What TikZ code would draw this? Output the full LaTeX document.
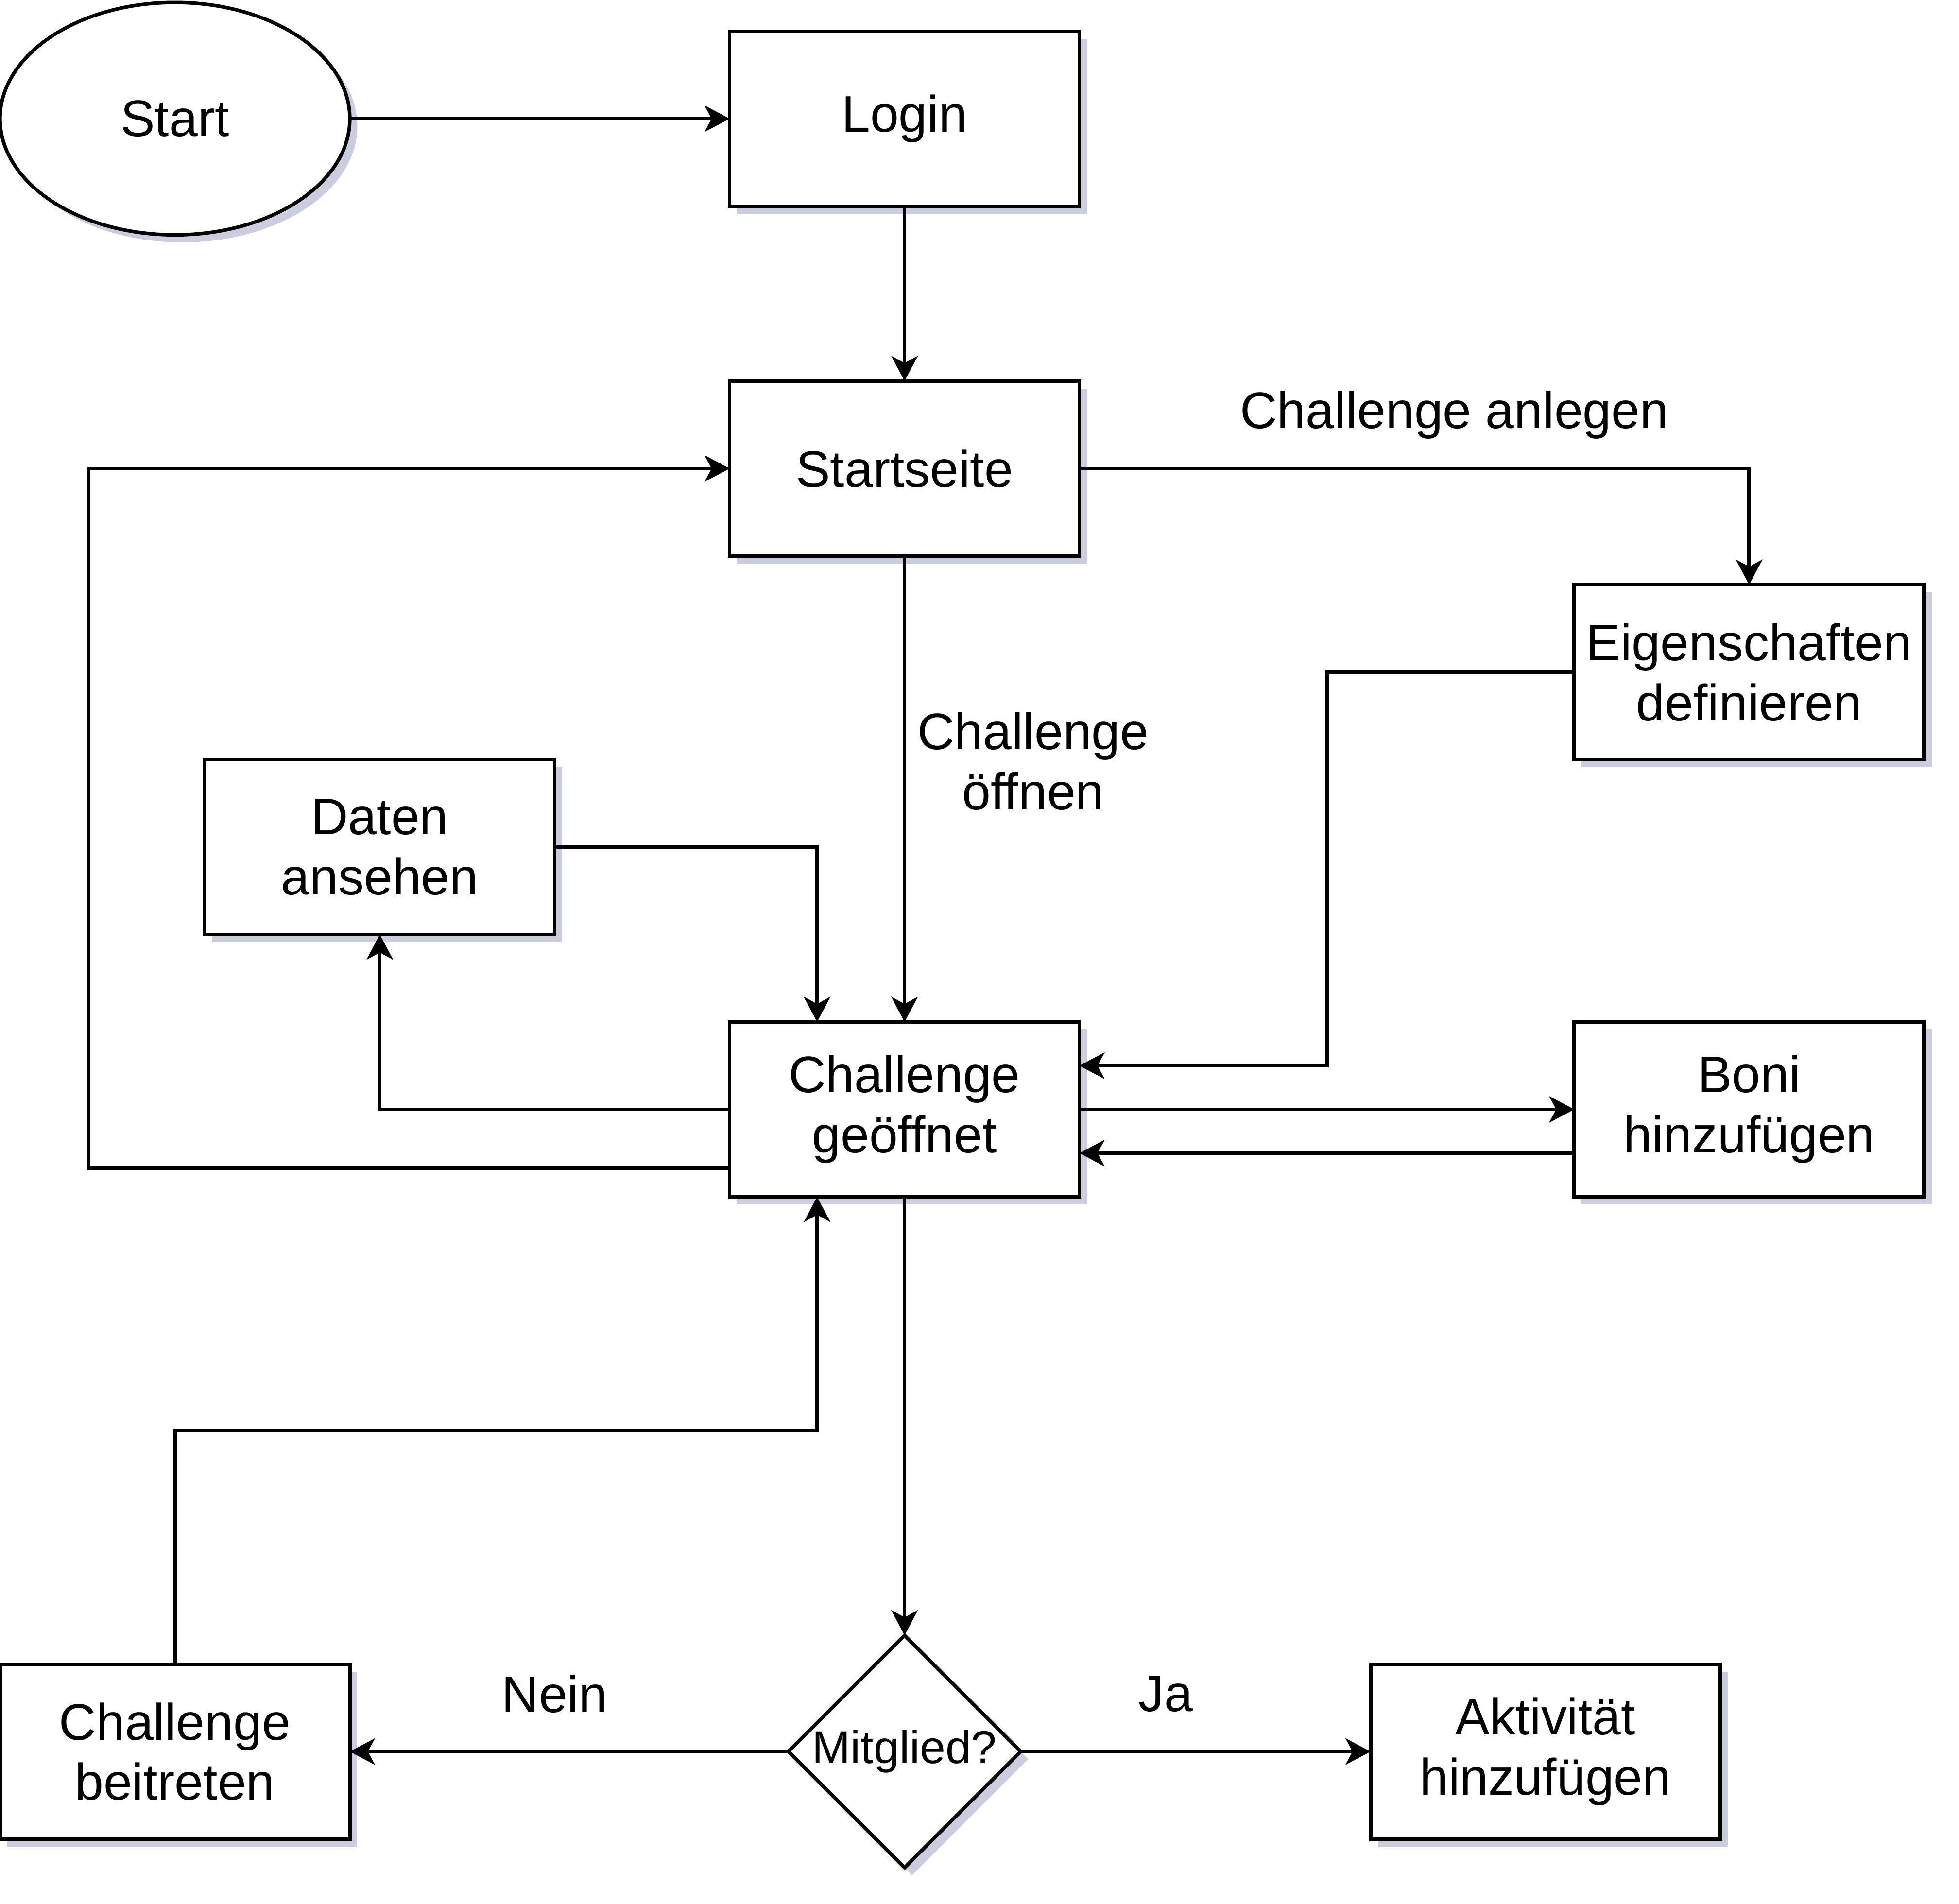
\documentclass[tikz,border=0pt]{standalone}
\usepackage{fontspec}
\setmainfont{Liberation Sans}
\usepackage{xcolor}
\usepackage{tikz}
\usetikzlibrary{arrows.meta,positioning,shapes.geometric,shadows,calc}
\definecolor{shadowblue}{RGB}{190,193,214}

\begin{document}
\begin{tikzpicture}[
            font=\fontsize{11.7}{13.7}\selectfont,
            box/.style={draw,line width=0.8pt,fill=white,minimum width=28mm,minimum height=14mm,align=center,inner sep=0pt,outer sep=0pt,
                drop shadow={shadow xshift=0.6mm,shadow yshift=-0.6mm,fill=shadowblue,opacity=0.8}},
            terminal/.style={box,ellipse,minimum height=18.6mm},
            decision/.style={box,diamond,minimum width=18.6mm,minimum height=18.6mm,font=\fontsize{10.5}{12}\selectfont},
            arrow/.style={-{Stealth[length=5.7pt,width=6pt,inset=1.6pt]},line width=0.8pt}
        ]
            \useasboundingbox (0,0) rectangle (156.8mm,-152.4mm);

            \node[terminal] (start) at (14mm,-9.5mm) {Start};
            \node[box, right=30.4mm of start] (login) {Login};
            \node[box, below=14mm of login] (startseite) {Startseite};
            \node[box, below=37.3mm of startseite] (geoeffnet) {Challenge\\geöffnet};
            \node[box, right=39.6mm of geoeffnet] (boni) {Boni\\hinzufügen};
            \node[box, above=21mm of boni] (eigen) {Eigenschaften\\definieren};
            \node[box, above left=7mm and 14mm of geoeffnet] (daten) {Daten\\ansehen};
            \node[decision, below=35.1mm of geoeffnet] (mitglied) {Mitglied?};
            \node[box, left=35.1mm of mitglied] (beitreten) {Challenge\\beitreten};
            \node[box, right=28mm of mitglied] (aktivitaet) {Aktivität\\hinzufügen};

            \draw[arrow] (start) -- (login);
            \draw[arrow] (login) -- (startseite);
            \draw[arrow] (startseite.east) -| node[pos=0.28,yshift=4.3mm]{Challenge anlegen} (eigen.north);
            \draw[arrow] (startseite) -- node[pos=0.44,xshift=10.3mm,align=center]{Challenge\\öffnen} (geoeffnet);
            \draw[arrow] (eigen.west) -- ++(-19.8mm,0) |- ([yshift=3.5mm]geoeffnet.east);
            \draw[arrow] (daten.east) -| ([xshift=-7mm]geoeffnet.north);
            \draw[arrow] (geoeffnet.west) -| (daten.south);
            \draw[arrow] ([yshift=-4.7mm]geoeffnet.west) -- ++(-51.3mm,0) |- (startseite.west);
            \draw[arrow] (geoeffnet.east) -- (boni.west);
            \draw[arrow] ([yshift=-3.5mm]boni.west) -- ([yshift=-3.5mm]geoeffnet.east);
            \draw[arrow] (geoeffnet) -- (mitglied);
            \draw[arrow] (mitglied) -- node[pos=0.533,yshift=4.6mm]{Nein} (beitreten);
            \draw[arrow] (mitglied) -- node[pos=0.414,yshift=4.6mm]{Ja} (aktivitaet);
            \draw[arrow] (beitreten.north) -- ++(0,18.7mm) -| ([xshift=-7mm]geoeffnet.south);
        \end{tikzpicture}
\end{document}
